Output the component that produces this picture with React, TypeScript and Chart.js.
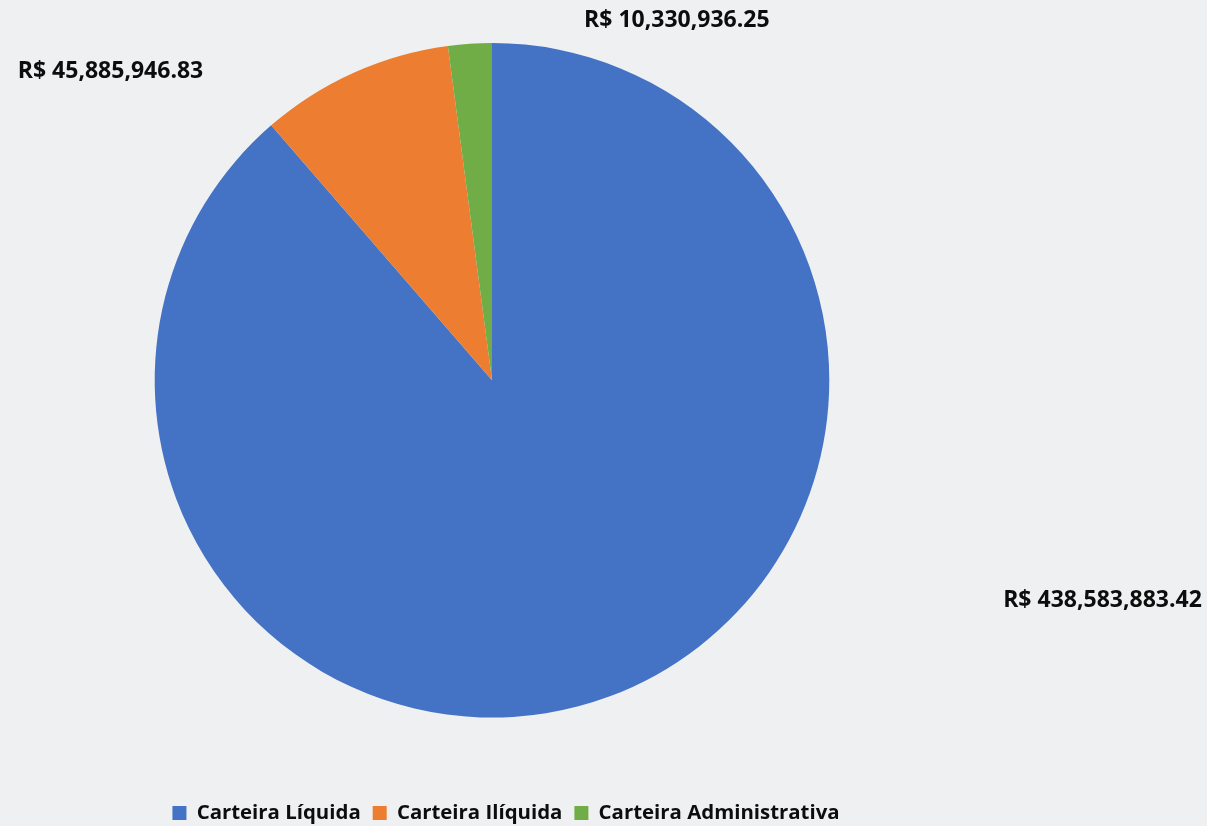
import React, { useEffect, useRef } from "react";
import { Chart, registerables } from "chart.js";

Chart.register(...registerables);

const categories = ["Carteira Líquida", "Carteira Ilíquida", "Carteira Administrativa"];
const values = [438583883.42, 45885946.83, 10330936.25];
const valueLabels = ["R$ 438,583,883.42", "R$ 45,885,946.83", "R$ 10,330,936.25"];
const colors = ["#4472C4", "#ED7D31", "#70AD47"];

// label anchor offsets, in units of the pie radius from the pie centre
const labelOffsets = [
  [1.81, 0.652],
  [-1.131, -0.917],
  [0.548, -1.068],
];

const FONT = "'Open Sans', 'Noto Sans', sans-serif";
const LEGEND_FONT_SIZE = 20.4;
const LEGEND_PADDING = 12;

export default function App() {
  const canvasRef = useRef<HTMLCanvasElement | null>(null);

  useEffect(() => {
    document.body.style.margin = "0";
    const canvas = canvasRef.current;
    if (!canvas) return;

    const valueLabelPlugin = {
      id: "valueLabels",
      afterDatasetsDraw(chart: any) {
        const meta = chart.getDatasetMeta(0);
        const ctx = chart.ctx;
        ctx.save();
        ctx.font = `bold 23px ${FONT}`;
        ctx.fillStyle = "#0d0d0d";
        ctx.textAlign = "center";
        ctx.textBaseline = "middle";
        meta.data.forEach((arc: any, i: number) => {
          const r = arc.outerRadius;
          const [fx, fy] = labelOffsets[i];
          ctx.fillText(valueLabels[i], arc.x + fx * r, arc.y + fy * r);
        });
        ctx.restore();
      },
    };

    const legendShift = {
      id: "legendShift",
      afterLayout(chart: any) {
        const lg = chart.legend;
        if (!lg) return;
        const dx = 14;
        const targetTextY = chart.height - 13;
        const dy = targetTextY - (lg.top + LEGEND_PADDING + LEGEND_FONT_SIZE / 2);
        lg.left += dx;
        lg.right += dx;
        lg.top += dy;
        lg.bottom += dy;
      },
    };

    const chart = new Chart(canvas, {
      type: "pie",
      data: {
        labels: categories,
        datasets: [
          {
            data: values,
            backgroundColor: colors,
            borderWidth: 0,
          },
        ],
      },
      options: {
        animation: false,
        responsive: false,
        maintainAspectRatio: false,
        layout: {
          padding: { left: 0, right: 223, top: 43, bottom: 66 },
        },
        plugins: {
          legend: {
            position: "bottom",
            labels: {
              boxWidth: 14,
              boxHeight: 14,
              padding: LEGEND_PADDING,
              color: "#0d0d0d",
              font: { family: FONT, size: LEGEND_FONT_SIZE, weight: "bold" },
            },
          },
          tooltip: { enabled: false },
        },
      },
      plugins: [valueLabelPlugin, legendShift],
    });

    return () => {
      chart.destroy();
    };
  }, []);

  return (
    <div
      style={{
        position: "fixed",
        left: 0,
        top: 0,
        width: 1207,
        height: 826,
        background: "#eef0f1",
      }}
    >
      <canvas ref={canvasRef} width={1207} height={826} style={{ display: "block" }} />
    </div>
  );
}
